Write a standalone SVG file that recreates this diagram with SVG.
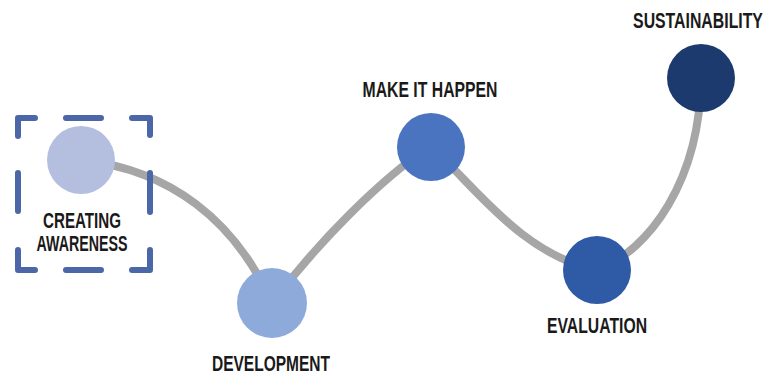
<svg xmlns="http://www.w3.org/2000/svg" width="769" height="376" viewBox="0 0 769 376">
<style>
.lbl{font-family:"Liberation Sans Narrow","Liberation Sans","DejaVu Sans Condensed",sans-serif;font-weight:bold;font-size:22px;fill:#1a1a1a;text-anchor:middle}
.conn{fill:none;stroke:#a6a6a6;stroke-width:8}
.sel{fill:none;stroke:#4c67a8;stroke-width:6;stroke-linecap:round;stroke-linejoin:round}
</style>
<rect width="769" height="376" fill="#ffffff"/>
<g id="connectors">
<path class="conn" d="M82,160 C170,170 235,220 272,303"/>
<path class="conn" d="M272,303 C320,240 380,180 430,146"/>
<path class="conn" d="M430,146 C470,180 520,255 597,270"/>
<path class="conn" d="M597,270 C650,250 700,180 701,78"/>
</g>
<g id="selection-box">
<path class="sel" d="M18,136 L18,118 L35,118 M66,118 L101,118 M132,118 L150,118 L150,135 M18,173 L18,211 M150,173 L150,212 M18,250 L18,270 L35,270 M66,270 L101,270 M132,270 L150,270 L150,250"/>
</g>
<g id="creating-awareness">
<circle cx="81" cy="160" r="34" fill="#b4bfe0"/>
<text class="lbl" x="82" y="228" textLength="78" lengthAdjust="spacingAndGlyphs">CREATING</text>
<text class="lbl" x="82" y="251" textLength="91" lengthAdjust="spacingAndGlyphs">AWARENESS</text>
</g>
<g id="development">
<circle cx="272" cy="303" r="35" fill="#8eaadb"/>
<text class="lbl" x="271" y="371" textLength="118" lengthAdjust="spacingAndGlyphs">DEVELOPMENT</text>
</g>
<g id="make-it-happen">
<circle cx="431" cy="147" r="34" fill="#4a74c0"/>
<text class="lbl" x="430" y="97" textLength="135" lengthAdjust="spacingAndGlyphs">MAKE IT HAPPEN</text>
</g>
<g id="evaluation">
<circle cx="597" cy="270" r="34" fill="#2e5aa6"/>
<text class="lbl" x="597" y="333" textLength="100" lengthAdjust="spacingAndGlyphs">EVALUATION</text>
</g>
<g id="sustainability">
<circle cx="701" cy="78" r="34" fill="#1c3a6e"/>
<text class="lbl" transform="translate(698,28) scale(0.72,1)" x="0" y="0">SUSTAINABILITY</text>
</g>
</svg>
